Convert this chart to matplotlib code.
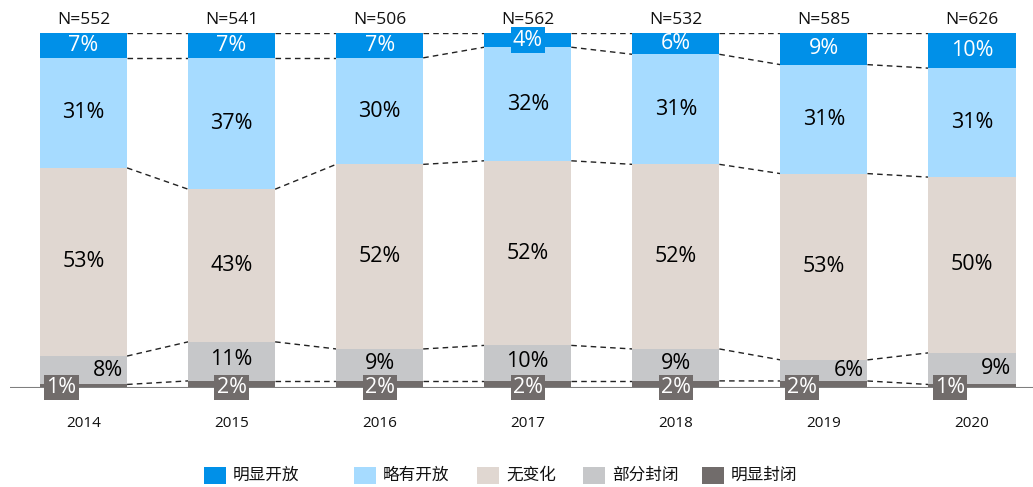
import numpy as np
import matplotlib.pyplot as plt
from matplotlib.patches import Rectangle

plt.rcParams['font.family'] = ['Open Sans', 'Noto Sans CJK SC', 'DejaVu Sans']

years = ['2014', '2015', '2016', '2017', '2018', '2019', '2020']
n_labels = [552, 541, 506, 562, 532, 585, 626]

# stacked from bottom to top
closed_clearly = [1, 2, 2, 2, 2, 2, 1]    # 明显封闭
closed_partly = [8, 11, 9, 10, 9, 6, 9]   # 部分封闭
no_change = [53, 43, 52, 52, 52, 53, 50]  # 无变化
open_slightly = [31, 37, 30, 32, 31, 31, 31]  # 略有开放
open_clearly = [7, 7, 7, 4, 6, 9, 10]     # 明显开放

names = ['明显封闭', '部分封闭', '无变化', '略有开放', '明显开放']
colors = ['#716c6b', '#c6c7c9', '#e0d7d1', '#a6dbff', '#0090e8']

series = np.array([closed_clearly, closed_partly, no_change, open_slightly, open_clearly], dtype=float)
# bars are drawn as shares of 100 so every bar ends at the top
heights = series / series.sum(axis=0) * 100
bottoms = np.vstack([np.zeros(len(years)), np.cumsum(heights, axis=0)[:-1]])
tops = bottoms + heights

W, H = 1033, 487
fig = plt.figure(figsize=(W / 100, H / 100), dpi=100)
ax = fig.add_axes([10 / W, 99 / H, 1023 / W, 355 / H])

x = np.arange(len(years))
w = 0.588
for i in range(5):
    ax.bar(x, heights[i], w, bottom=bottoms[i], color=colors[i], edgecolor='none', zorder=2)

# dashed connectors between neighbouring bars
for k in range(5):
    lvl = tops[k]
    for j in range(len(years) - 1):
        ax.plot([x[j] + w / 2, x[j + 1] - w / 2], [lvl[j], lvl[j + 1]],
                color='#222222', lw=1, ls=(0, (4, 3)), zorder=1)

fs = 15.5
shift = 22 / 148
pad_r = 4 / 148
for j in range(len(years)):
    # 明显开放
    blue_box = None
    if heights[4, j] < 6:
        blue_box = dict(boxstyle='square,pad=0.1', fc=colors[4], ec='none')
    ax.text(x[j], bottoms[4, j] + heights[4, j] / 2, f'{open_clearly[j]}%', ha='center', va='center',
            color='white', fontsize=fs, bbox=blue_box, zorder=4)
    ax.text(x[j], bottoms[3, j] + heights[3, j] / 2, f'{open_slightly[j]}%', ha='center', va='center',
            color='black', fontsize=fs, zorder=4)
    ax.text(x[j], bottoms[2, j] + heights[2, j] / 2, f'{no_change[j]}%', ha='center', va='center',
            color='black', fontsize=fs, zorder=4)
    side = closed_partly[j] < 9 or closed_clearly[j] < 2
    if side:
        ax.text(x[j] + w / 2 - pad_r, bottoms[1, j] + heights[1, j] / 2, f'{closed_partly[j]}%',
                ha='right', va='center', color='black', fontsize=fs, zorder=4)
        bx = x[j] - shift
    else:
        ax.text(x[j], bottoms[1, j] + heights[1, j] / 2 + 0.5, f'{closed_partly[j]}%',
                ha='center', va='center', color='black', fontsize=fs, zorder=4)
        bx = x[j]
    ax.text(bx, 0.2, f'{closed_clearly[j]}%', ha='center', va='center', color='white', fontsize=fs,
            bbox=dict(boxstyle='square,pad=0.1', fc=colors[0], ec='none'), zorder=5)
    ax.text(x[j], 101.5, f'N={n_labels[j]}', ha='center', va='bottom', fontsize=12.5, color='#111111')
    ax.text(x[j], -8, years[j], ha='center', va='top', fontsize=11, color='#111111')

ax.axhline(0, color='#7f7f7f', lw=1.5, zorder=3)
ax.set_xlim(-73.5 / 148, 6 + 61 / 148)
ax.set_ylim(0, 100)
ax.axis('off')

# legend drawn entry by entry, in pixel positions of the original layout
leg_x = [204, 354, 477, 583, 702]
for px, i in zip(leg_x, [4, 3, 2, 1, 0]):
    fig.patches.append(Rectangle((px / W, 1 - 484 / H), 22 / W, 17 / H, transform=fig.transFigure,
                                 facecolor=colors[i], edgecolor='none'))
    fig.text((px + 29) / W, 1 - 476 / H, names[i], ha='left', va='center', fontsize=12, color='#111111')

fig.savefig('out.png', dpi=100)
